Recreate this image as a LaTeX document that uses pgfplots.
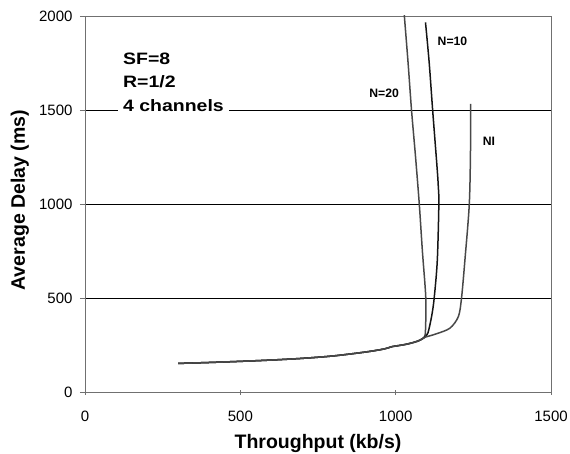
\documentclass[border=0pt]{standalone}
\usepackage{fontspec}
\setmainfont{Liberation Sans}
\newfontfamily\stretchfont[FakeStretch=1.18]{Liberation Sans}
\usepackage{pgfplots}
\pgfplotsset{compat=1.18}
\definecolor{lgray}{HTML}{484848}
\definecolor{ldark}{HTML}{151515}
\definecolor{agray}{HTML}{707070}
\begin{document}
\begin{tikzpicture}
\begin{axis}[
  scale only axis,
  width=466bp, height=376bp,
  xmin=0, xmax=1500, ymin=0, ymax=2000,
  xtick={0,500,1000,1500}, ytick={0,500,1000,1500,2000},
  xtick pos=bottom, ytick pos=left,
  ymajorgrids, major grid style={black, line width=0.6bp},
  axis line style={agray, line width=0.9bp},
  x tick style={agray, line width=0.6bp}, y tick style={agray, line width=0.6bp},
  major tick length=5bp,
  x tick style={/pgfplots/tick align=center},
  y tick style={/pgfplots/tick align=outside},
  /pgf/number format/assume math mode=true,
  /pgf/number format/1000 sep={},
  ticklabel style={font=\fontsize{15bp}{18bp}\selectfont},
  xticklabel style={anchor=base, yshift=-29bp},
  yticklabel style={anchor=east, xshift=-9bp},
  xlabel={\bfseries Throughput (kb/s)},
  ylabel={\bfseries Average Delay (ms)},
  label style={font=\fontsize{19.5bp}{22bp}\selectfont},
  xlabel style={at={(axis description cs:0.5,0)}, anchor=base, yshift=-56bp},
  ylabel style={at={(axis description cs:-0.1395,0.51)}, anchor=center},
  clip=true,
]
% N=20
\addplot[lgray, line width=1.5bp, smooth] coordinates {
(300,152)(400,157)(500,163)(600,170)(700,179)(800,192)(900,212)(960,228)(990,242)(1010,247)(1040,256)(1070,270)(1085,282)
(1093,295)(1096,330)(1097,500)(1086,750)(1076,1000)(1064,1250)(1051,1500)(1040,1750)(1028,2000)(1026,2050)};
% N=10
\addplot[ldark, line width=1.5bp, smooth] coordinates {
(300,152)(400,157)(500,163)(600,170)(700,179)(800,192)(900,212)(960,228)(990,242)(1010,247)(1040,256)(1070,270)(1085,282)
(1094,292)(1104,315)(1116,405)(1124,500)(1134,700)(1139,1000)(1137,1100)(1133,1200)(1119,1500)(1108,1750)(1096,1966)};
% NI
\addplot[lgray, line width=1.5bp, smooth] coordinates {
(300,152)(400,157)(500,163)(600,170)(700,179)(800,192)(900,212)(960,228)(990,242)(1010,247)(1040,256)(1070,270)(1085,282)
(1096,292)(1132,310)(1175,340)(1202,402)(1212,500)(1223,704)(1237,1000)(1241,1300)(1241,1533)};
\node[anchor=base west, font=\fontsize{12.2bp}{14bp}\selectfont\bfseries] at (axis cs:1124,1842) {N=10};
\node[anchor=base west, font=\fontsize{12.2bp}{14bp}\selectfont\bfseries] at (axis cs:904,1564) {N=20};
\node[anchor=base west, font=\fontsize{12.2bp}{14bp}\selectfont\bfseries] at (axis cs:1269,1312) {NI};
\node[anchor=north west, fill=white, inner xsep=5bp, inner ysep=4bp, align=left,
  font=\stretchfont\fontsize{16.5bp}{23.5bp}\selectfont\bfseries] at (axis cs:106,1826) {SF=8\\R=1/2\\4 channels};
\end{axis}
\pgfresetboundingbox
\path ([shift={(-85bp,-62bp)}]current axis.south west) rectangle ([shift={(19bp,16bp)}]current axis.north east);
\end{tikzpicture}
\end{document}
